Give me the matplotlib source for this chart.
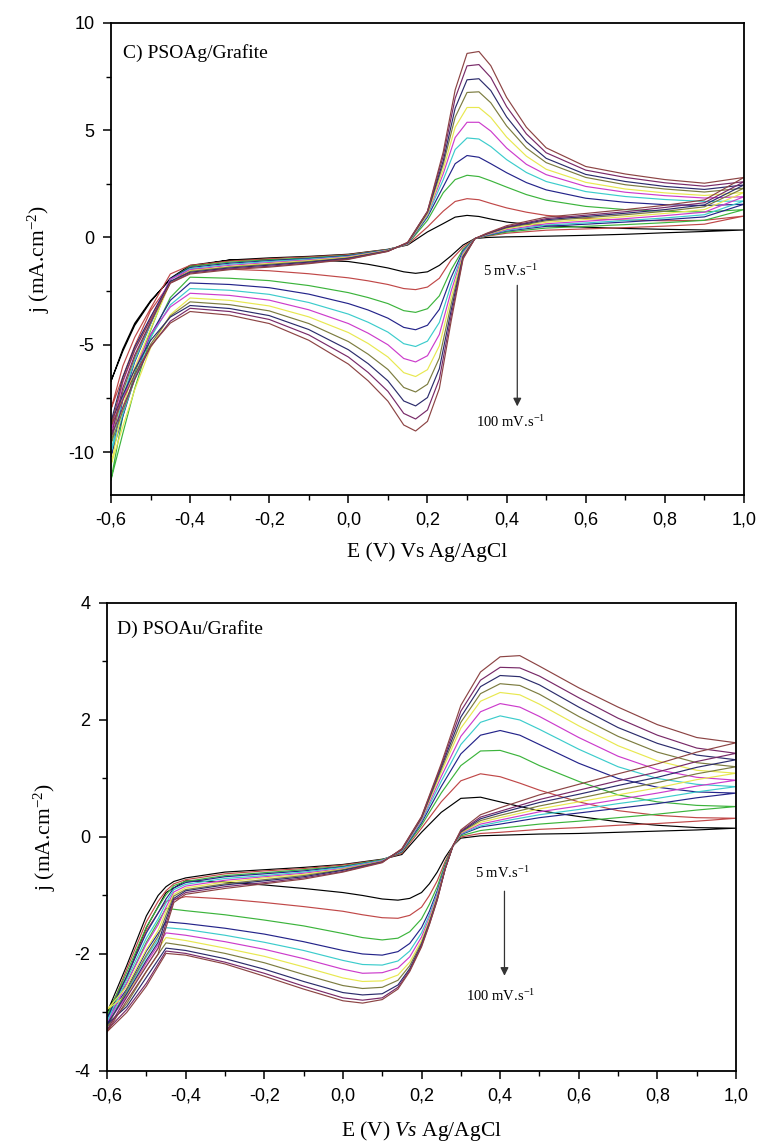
import matplotlib
matplotlib.use("Agg")
import matplotlib.pyplot as plt
from matplotlib.ticker import MultipleLocator, FuncFormatter

plt.rcParams['axes.unicode_minus'] = False
plt.rcParams['mathtext.fontset'] = 'custom'
plt.rcParams['mathtext.rm'] = 'Liberation Serif'
plt.rcParams['mathtext.it'] = 'Liberation Serif:italic'

# ---------------- data ----------------
SCAN_RATES = [5, 10, 20, 30, 40, 50, 60, 70, 80, 90, 100]   # mV/s
COLORS = ['#000000', '#c04848', '#3cb43c', '#24248a', '#3ccccc', '#cc3ccc',
          '#e8e850', '#7c7c40', '#2c2c6c', '#782a68', '#8c4444']

# Panel C: PSOAg/Grafite
C_E_FWD = [-0.60, -0.57, -0.54, -0.50, -0.45, -0.40, -0.30, -0.20, -0.10, 0.00, 0.10, 0.15, 0.20,
           0.24, 0.27, 0.30, 0.33, 0.36, 0.40, 0.45, 0.50, 0.60, 0.70, 0.80, 0.90, 1.00]
C_J_FWD = [
    [-6.7, -5.2, -4.0, -2.95, -1.95, -1.35, -1.05, -0.95, -0.88, -0.78, -0.55, -0.35, 0.26, 0.65, 0.95, 1.03, 0.98, 0.86, 0.72, 0.62, 0.55, 0.48, 0.42, 0.38, 0.35, 0.35],
    [-8.0, -5.99, -4.65, -3.31, -1.7, -1.3, -1.1, -0.99, -0.91, -0.8, -0.56, -0.33, 0.49, 1.23, 1.68, 1.81, 1.76, 1.59, 1.38, 1.18, 1.03, 0.89, 0.81, 0.78, 0.8, 1.0],
    [-11.3, -8.32, -6.33, -4.34, -1.95, -1.35, -1.15, -1.04, -0.95, -0.83, -0.57, -0.31, 0.8, 2.09, 2.7, 2.9, 2.84, 2.64, 2.35, 2.0, 1.74, 1.45, 1.3, 1.22, 1.19, 1.3],
    [-10.2, -7.56, -5.8, -4.04, -1.93, -1.4, -1.2, -1.08, -0.98, -0.85, -0.58, -0.3, 0.96, 2.37, 3.44, 3.82, 3.74, 3.44, 3.02, 2.56, 2.22, 1.83, 1.64, 1.53, 1.49, 1.55],
    [-10.0, -7.44, -5.73, -4.02, -1.96, -1.45, -1.25, -1.12, -1.01, -0.88, -0.59, -0.29, 1.03, 2.7, 4.1, 4.64, 4.59, 4.24, 3.63, 3.03, 2.61, 2.14, 1.91, 1.77, 1.68, 1.7],
    [-9.0, -6.75, -5.25, -3.75, -1.95, -1.5, -1.3, -1.17, -1.05, -0.9, -0.6, -0.28, 1.08, 2.98, 4.66, 5.37, 5.37, 4.96, 4.17, 3.41, 2.93, 2.38, 2.11, 1.95, 1.84, 1.9],
    [-10.6, -7.89, -6.08, -4.27, -2.09, -1.55, -1.35, -1.21, -1.08, -0.92, -0.61, -0.27, 1.1, 3.18, 5.14, 6.06, 6.06, 5.6, 4.68, 3.79, 3.18, 2.57, 2.26, 2.08, 1.96, 2.1],
    [-9.6, -7.19, -5.59, -3.99, -2.06, -1.58, -1.38, -1.25, -1.12, -0.95, -0.62, -0.26, 1.16, 3.42, 5.61, 6.76, 6.79, 6.28, 5.2, 4.17, 3.49, 2.8, 2.46, 2.26, 2.12, 2.3],
    [-8.6, -6.51, -5.11, -3.71, -2.04, -1.62, -1.42, -1.29, -1.15, -0.97, -0.63, -0.25, 1.19, 3.58, 6.03, 7.35, 7.4, 6.85, 5.62, 4.47, 3.69, 2.94, 2.61, 2.38, 2.24, 2.45],
    [-9.3, -7.01, -5.48, -3.95, -2.12, -1.66, -1.46, -1.34, -1.19, -1.0, -0.64, -0.24, 1.22, 3.81, 6.49, 8.0, 8.06, 7.46, 6.1, 4.83, 3.95, 3.14, 2.8, 2.55, 2.39, 2.6],
    [-8.8, -6.67, -5.25, -3.83, -2.13, -1.7, -1.5, -1.38, -1.22, -1.02, -0.65, -0.22, 1.22, 4.0, 6.88, 8.58, 8.67, 8.01, 6.53, 5.14, 4.18, 3.31, 2.96, 2.7, 2.53, 2.8],
]
C_E_REV = [1.00, 0.90, 0.80, 0.70, 0.60, 0.50, 0.40, 0.35, 0.32, 0.29, 0.26, 0.23, 0.20, 0.17,
           0.14, 0.10, 0.05, 0.00, -0.10, -0.20, -0.30, -0.40, -0.45, -0.50, -0.54, -0.57, -0.60]
C_J_REV = [
    [0.35, 0.28, 0.22, 0.15, 0.10, 0.06, 0.03, 0.00, -0.05, -0.35, -0.85, -1.3, -1.6, -1.67, -1.6, -1.42, -1.25, -1.12, -1.05, -1.02, -1.05, -1.3, -1.9, -3.0, -4.1, -5.3, -6.7],
    [1.0, 0.62, 0.53, 0.46, 0.40, 0.34, 0.20, 0.06, -0.05, -0.45, -1.04, -1.9, -2.31, -2.43, -2.38, -2.19, -2.02, -1.88, -1.69, -1.55, -1.48, -1.45, -2.11, -3.42, -5.05, -6.49, -8.0],
    [1.3, 0.8, 0.69, 0.6, 0.52, 0.44, 0.25, 0.08, -0.05, -0.55, -1.5, -2.72, -3.32, -3.49, -3.41, -3.08, -2.8, -2.57, -2.24, -2.01, -1.9, -1.85, -2.8, -4.69, -7.05, -9.13, -11.3],
    [1.55, 0.96, 0.83, 0.72, 0.62, 0.52, 0.3, 0.1, -0.05, -0.62, -1.85, -3.35, -4.09, -4.3, -4.19, -3.76, -3.38, -3.08, -2.64, -2.34, -2.19, -2.12, -2.93, -4.54, -6.56, -8.34, -10.2],
    [1.7, 1.06, 0.91, 0.79, 0.68, 0.58, 0.33, 0.12, -0.05, -0.68, -2.18, -3.96, -4.83, -5.08, -4.95, -4.41, -3.95, -3.57, -3.03, -2.65, -2.46, -2.38, -3.14, -4.67, -6.57, -8.25, -10.0],
    [1.9, 1.18, 1.02, 0.88, 0.76, 0.64, 0.37, 0.13, -0.05, -0.74, -2.49, -4.52, -5.51, -5.8, -5.64, -5.0, -4.46, -4.01, -3.37, -2.92, -2.7, -2.6, -3.24, -4.52, -6.12, -7.53, -9.0],
    [2.1, 1.3, 1.12, 0.97, 0.84, 0.71, 0.41, 0.15, -0.05, -0.8, -2.79, -5.05, -6.16, -6.48, -6.3, -5.57, -4.94, -4.43, -3.7, -3.19, -2.93, -2.82, -3.6, -5.15, -7.1, -8.81, -10.6],
    [2.3, 1.43, 1.22, 1.06, 0.92, 0.78, 0.45, 0.16, -0.05, -0.86, -3.1, -5.62, -6.84, -7.2, -6.99, -6.15, -5.44, -4.85, -4.01, -3.42, -3.13, -3.0, -3.66, -4.98, -6.63, -8.08, -9.6],
    [2.45, 1.52, 1.3, 1.13, 0.98, 0.83, 0.48, 0.17, -0.05, -0.9, -3.38, -6.12, -7.46, -7.85, -7.62, -6.68, -5.88, -5.23, -4.29, -3.64, -3.31, -3.17, -3.71, -4.8, -6.16, -7.35, -8.6],
    [2.6, 1.62, 1.4, 1.2, 1.04, 0.88, 0.5, 0.18, -0.05, -0.95, -3.64, -6.6, -8.04, -8.46, -8.2, -7.17, -6.29, -5.57, -4.54, -3.82, -3.45, -3.3, -3.9, -5.1, -6.6, -7.92, -9.3],
    [2.8, 1.75, 1.5, 1.3, 1.12, 0.95, 0.55, 0.2, -0.05, -1.0, -3.88, -7.04, -8.57, -9.02, -8.74, -7.63, -6.68, -5.9, -4.79, -4.01, -3.62, -3.45, -3.99, -5.06, -6.39, -7.57, -8.8],
]

# Panel D: PSOAu/Grafite
D_E_FWD = [-0.60, -0.55, -0.50, -0.47, -0.45, -0.43, -0.40, -0.30, -0.20, -0.10, 0.00, 0.10, 0.15,
           0.20, 0.25, 0.30, 0.35, 0.40, 0.45, 0.50, 0.60, 0.70, 0.80, 0.90, 1.00]
D_J_FWD = [
    [-3.0, -2.2, -1.35, -1.0, -0.85, -0.76, -0.7, -0.6, -0.56, -0.52, -0.47, -0.38, -0.3, 0.08, 0.42, 0.66, 0.68, 0.6, 0.52, 0.45, 0.35, 0.26, 0.2, 0.16, 0.15],
    [-3.1, -2.26, -1.45, -1.1, -0.92, -0.8, -0.73, -0.63, -0.58, -0.54, -0.48, -0.39, -0.28, 0.15, 0.6, 0.96, 1.08, 1.03, 0.92, 0.8, 0.6, 0.45, 0.37, 0.33, 0.32],
    [-3.05, -2.32, -1.54, -1.2, -0.99, -0.83, -0.76, -0.66, -0.61, -0.56, -0.5, -0.39, -0.26, 0.2, 0.75, 1.22, 1.47, 1.48, 1.38, 1.22, 0.95, 0.72, 0.6, 0.54, 0.52],
    [-3.1, -2.38, -1.64, -1.3, -1.06, -0.87, -0.78, -0.68, -0.63, -0.58, -0.51, -0.4, -0.25, 0.24, 0.86, 1.42, 1.74, 1.82, 1.74, 1.58, 1.26, 1.0, 0.85, 0.77, 0.75],
    [-3.15, -2.44, -1.73, -1.4, -1.13, -0.9, -0.81, -0.71, -0.66, -0.6, -0.52, -0.4, -0.24, 0.27, 0.95, 1.58, 1.96, 2.07, 2.0, 1.84, 1.5, 1.2, 1.0, 0.9, 0.86],
    [-3.2, -2.5, -1.83, -1.5, -1.2, -0.94, -0.84, -0.74, -0.68, -0.62, -0.54, -0.41, -0.23, 0.29, 1.03, 1.72, 2.14, 2.28, 2.22, 2.06, 1.7, 1.38, 1.15, 1.02, 0.97],
    [-2.95, -2.56, -1.92, -1.6, -1.27, -0.98, -0.87, -0.77, -0.7, -0.64, -0.55, -0.42, -0.22, 0.31, 1.1, 1.86, 2.32, 2.47, 2.43, 2.27, 1.9, 1.56, 1.3, 1.14, 1.09],
    [-3.25, -2.62, -2.02, -1.7, -1.34, -1.01, -0.9, -0.8, -0.73, -0.66, -0.56, -0.42, -0.22, 0.32, 1.15, 1.96, 2.45, 2.62, 2.59, 2.44, 2.06, 1.72, 1.45, 1.27, 1.2],
    [-3.2, -2.68, -2.11, -1.8, -1.41, -1.05, -0.92, -0.82, -0.75, -0.68, -0.57, -0.43, -0.21, 0.33, 1.19, 2.05, 2.57, 2.76, 2.74, 2.6, 2.22, 1.87, 1.6, 1.4, 1.32],
    [-3.3, -2.74, -2.21, -1.9, -1.48, -1.08, -0.95, -0.85, -0.78, -0.7, -0.59, -0.43, -0.21, 0.34, 1.22, 2.15, 2.68, 2.9, 2.89, 2.75, 2.38, 2.03, 1.74, 1.52, 1.43],
    [-3.33, -2.8, -2.3, -2.0, -1.55, -1.12, -0.98, -0.88, -0.8, -0.72, -0.6, -0.44, -0.2, 0.35, 1.25, 2.25, 2.82, 3.08, 3.1, 2.92, 2.55, 2.22, 1.92, 1.7, 1.61],
]
D_E_REV = [1.00, 0.90, 0.80, 0.70, 0.60, 0.50, 0.40, 0.35, 0.30, 0.28, 0.26, 0.24, 0.22, 0.20,
           0.17, 0.14, 0.10, 0.05, 0.00, -0.10, -0.20, -0.30, -0.40, -0.45, -0.50, -0.55, -0.60]
D_J_REV = [
    [0.15, 0.12, 0.1, 0.08, 0.06, 0.05, 0.03, 0.02, -0.02, -0.15, -0.35, -0.6, -0.8, -0.95, -1.05, -1.08, -1.06, -1.0, -0.95, -0.88, -0.82, -0.77, -0.75, -0.95, -1.55, -2.4, -3.0],
    [0.32, 0.27, 0.23, 0.2, 0.16, 0.13, 0.08, 0.06, 0.0, -0.15, -0.42, -0.75, -1.0, -1.2, -1.34, -1.39, -1.38, -1.33, -1.27, -1.19, -1.12, -1.06, -1.02, -1.1, -1.6, -2.4, -3.1],
    [0.52, 0.46, 0.39, 0.33, 0.27, 0.22, 0.15, 0.11, 0.02, -0.15, -0.46, -0.85, -1.15, -1.4, -1.62, -1.73, -1.76, -1.72, -1.65, -1.52, -1.42, -1.33, -1.26, -1.22, -1.8, -2.5, -3.05],
    [0.75, 0.67, 0.57, 0.49, 0.41, 0.33, 0.22, 0.17, 0.04, -0.15, -0.5, -0.92, -1.27, -1.55, -1.82, -1.96, -2.02, -2.0, -1.94, -1.79, -1.66, -1.56, -1.48, -1.45, -1.95, -2.6, -3.1],
    [0.86, 0.77, 0.66, 0.57, 0.47, 0.38, 0.26, 0.19, 0.05, -0.15, -0.52, -0.96, -1.33, -1.64, -1.95, -2.12, -2.19, -2.18, -2.11, -1.94, -1.8, -1.68, -1.58, -1.55, -2.05, -2.65, -3.15],
    [0.97, 0.87, 0.75, 0.64, 0.53, 0.43, 0.29, 0.22, 0.06, -0.15, -0.53, -0.99, -1.38, -1.71, -2.05, -2.24, -2.32, -2.33, -2.26, -2.08, -1.92, -1.79, -1.68, -1.64, -2.15, -2.72, -3.2],
    [1.09, 0.98, 0.84, 0.72, 0.6, 0.48, 0.33, 0.25, 0.07, -0.15, -0.54, -1.02, -1.42, -1.77, -2.14, -2.36, -2.46, -2.47, -2.41, -2.22, -2.04, -1.9, -1.77, -1.72, -2.2, -2.7, -2.95],
    [1.2, 1.08, 0.93, 0.8, 0.66, 0.53, 0.37, 0.28, 0.08, -0.15, -0.55, -1.04, -1.45, -1.81, -2.2, -2.45, -2.57, -2.59, -2.54, -2.35, -2.15, -1.99, -1.86, -1.81, -2.3, -2.85, -3.25],
    [1.32, 1.19, 1.02, 0.88, 0.73, 0.59, 0.41, 0.31, 0.09, -0.15, -0.55, -1.06, -1.47, -1.84, -2.25, -2.53, -2.68, -2.7, -2.66, -2.47, -2.26, -2.08, -1.94, -1.9, -2.4, -2.9, -3.2],
    [1.43, 1.29, 1.11, 0.96, 0.8, 0.64, 0.44, 0.34, 0.1, -0.15, -0.55, -1.07, -1.49, -1.86, -2.28, -2.57, -2.75, -2.79, -2.75, -2.55, -2.33, -2.14, -1.99, -1.95, -2.5, -2.95, -3.3],
    [1.61, 1.45, 1.25, 1.08, 0.9, 0.72, 0.5, 0.38, 0.12, -0.15, -0.55, -1.08, -1.5, -1.88, -2.3, -2.6, -2.78, -2.84, -2.8, -2.6, -2.38, -2.17, -2.02, -1.99, -2.55, -3.0, -3.33],
]

X_TICKS = [-0.6, -0.4, -0.2, 0.0, 0.2, 0.4, 0.6, 0.8, 1.0]
C_Y_TICKS = [-10, -5, 0, 5, 10]
D_Y_TICKS = [-4, -2, 0, 2, 4]

SERIF = 'Liberation Serif'
SANS = 'Liberation Sans'

# ---------------- figure ----------------
fig = plt.figure(figsize=(7.58, 11.42), dpi=100)
axC = fig.add_axes([0.1464, 0.5666, 0.8351, 0.4133])
axD = fig.add_axes([0.1412, 0.0622, 0.8298, 0.4098])


def draw_panel(ax, e_fwd, j_fwd, e_rev, j_rev):
    for k in range(len(SCAN_RATES)):
        ax.plot(list(e_fwd) + list(e_rev), list(j_fwd[k]) + list(j_rev[k]),
                color=COLORS[k], lw=0.85, solid_joinstyle='round')


def style_axes(ax, yticks, ylim, yminor):
    ax.set_xlim(-0.6, 1.0)
    ax.set_ylim(*ylim)
    ax.set_xticks(X_TICKS)
    ax.set_yticks(yticks)
    ax.xaxis.set_minor_locator(MultipleLocator(0.1))
    ax.yaxis.set_minor_locator(MultipleLocator(yminor))
    ax.xaxis.set_major_formatter(FuncFormatter(lambda v, p: f"{v:.1f}".replace('.', ',').replace('-0,0', '0,0')))
    ax.yaxis.set_major_formatter(FuncFormatter(lambda v, p: f"{int(round(v))}"))
    ax.tick_params(which='major', direction='out', length=6, width=1.1, labelsize=13, pad=6)
    ax.tick_params(which='minor', direction='out', length=3.5, width=1.0)
    for lab in ax.get_xticklabels() + ax.get_yticklabels():
        lab.set_fontfamily(SANS)
    for sp in ax.spines.values():
        sp.set_linewidth(1.3)


draw_panel(axC, C_E_FWD, C_J_FWD, C_E_REV, C_J_REV)
style_axes(axC, C_Y_TICKS, (-12, 10), 2.5)
axC.set_xlabel('E (V) Vs Ag/AgCl', fontsize=15.5, family=SERIF, labelpad=10)
axC.set_ylabel('j (mA.cm$^{-2}$)', fontsize=15.5, family=SERIF, labelpad=12)
axC.text(-0.57, 8.6, 'C) PSOAg/Grafite', fontsize=14, family=SERIF, va='center', ha='left')
axC.text(0.41, -1.55, '5 mV.s$^{-1}$', fontsize=10.5, family=SERIF, ha='center', va='center')
axC.annotate('', xy=(0.427, -8.0), xytext=(0.427, -2.1),
             arrowprops=dict(arrowstyle='-|>', color='#333333', lw=0.9, mutation_scale=12))
axC.text(0.41, -8.6, '100 mV.s$^{-1}$', fontsize=10.5, family=SERIF, ha='center', va='center')

draw_panel(axD, D_E_FWD, D_J_FWD, D_E_REV, D_J_REV)
style_axes(axD, D_Y_TICKS, (-4, 4), 1)
axD.set_xlabel('E (V) $\\mathit{Vs}$ Ag/AgCl', fontsize=15.5, family=SERIF, labelpad=10)
axD.set_ylabel('j (mA.cm$^{-2}$)', fontsize=15.5, family=SERIF, labelpad=12)
axD.text(-0.575, 3.55, 'D) PSOAu/Grafite', fontsize=14, family=SERIF, va='center', ha='left')
axD.text(0.405, -0.62, '5 mV.s$^{-1}$', fontsize=10.5, family=SERIF, ha='center', va='center')
axD.annotate('', xy=(0.411, -2.42), xytext=(0.411, -0.88),
             arrowprops=dict(arrowstyle='-|>', color='#333333', lw=0.9, mutation_scale=12))
axD.text(0.40, -2.72, '100 mV.s$^{-1}$', fontsize=10.5, family=SERIF, ha='center', va='center')

fig.savefig('out.png', dpi=100)
